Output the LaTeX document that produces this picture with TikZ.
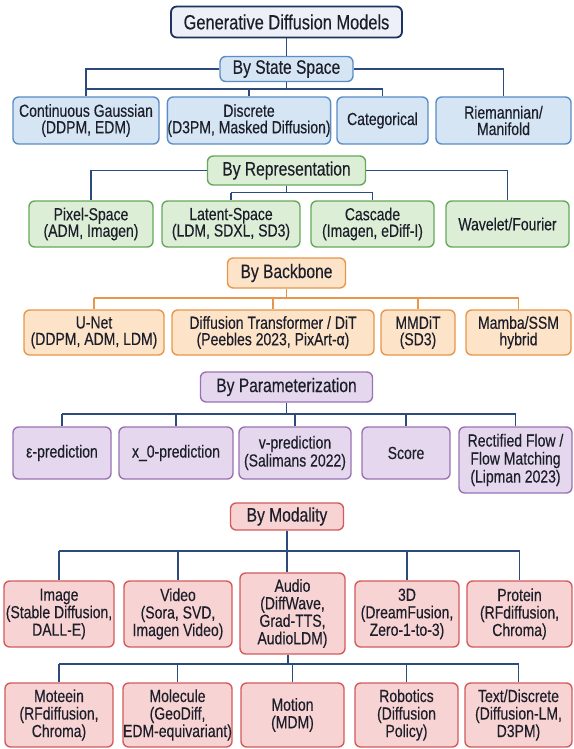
\documentclass[tikz,border=0pt]{standalone}
\usepackage{fontspec}
\setmainfont[FakeStretch=0.8, FakeBold=0.3]{Liberation Sans}
\usetikzlibrary{positioning, calc}

\definecolor{rootfill}{HTML}{EDF0F6}
\definecolor{rootline}{HTML}{1D335E}
\definecolor{bluefill}{HTML}{D5E5F4}
\definecolor{blueline}{HTML}{5A8DC5}
\definecolor{greenfill}{HTML}{DCEFD6}
\definecolor{greenline}{HTML}{67A85C}
\definecolor{orangefill}{HTML}{FDE3C8}
\definecolor{orangeline}{HTML}{E8964A}
\definecolor{purplefill}{HTML}{E5D8EE}
\definecolor{purpleline}{HTML}{9A72B4}
\definecolor{redfill}{HTML}{F8D3D3}
\definecolor{redline}{HTML}{D35B5B}
\definecolor{wirecol}{HTML}{2C4A7C}
\definecolor{ink}{HTML}{1C1E2A}

\begin{document}
\begin{tikzpicture}[x=1pt, y=-1pt,
	box/.style={draw, rounded corners=0.2cm, line width=1.4pt, align=center, inner sep=0pt, text=ink, font=\fontsize{17.5}{16.5}\selectfont},
	wh/.style 2 args={minimum width=#1pt, minimum height=#2pt},
	head/.style={box, font=\fontsize{19.5}{19}\selectfont},
	bluebox/.style={draw=blueline, fill=bluefill},
	greenbox/.style={draw=greenline, fill=greenfill},
	orangebox/.style={draw=orangeline, fill=orangefill},
	purplebox/.style={draw=purpleline, fill=purplefill, font=\fontsize{17.5}{18}\selectfont},
	redbox/.style={draw=redline, fill=redfill, font=\fontsize{17.5}{17.5}\selectfont},
	wire/.style={draw=wirecol, line width=1.3pt}]
	\useasboundingbox[fill=white] (0, 0) rectangle (573, 749);

	\node (0) at (286.5, 22) [box, wh={231}{31}, draw=rootline, fill=rootfill, line width=1.8pt, font=\fontsize{20.5}{20}\selectfont] {Generative Diffusion Models};

	% state space
	\node (1) at (286.5, 69) [head, bluebox, wh={133}{25}] {By State Space};
	\node (11) at (86, 120.5) [box, bluebox, wh={146}{47}] {Continuous Gaussian\\(DDPM, EDM)};
	\node (12) at (249, 120.5) [box, bluebox, wh={158}{47}] {Discrete\\(D3PM, Masked Diffusion)};
	\node (13) at (382.5, 120.5) [box, bluebox, wh={91}{47}] {Categorical};
	\node (14) at (503.5, 120.5) [box, bluebox, wh={135}{47}] {Riemannian/\\Manifold};

	% representation
	\node (2) at (286.5, 170.5) [head, greenbox, wh={158}{29}] {By Representation};
	\node (21) at (91, 224) [box, greenbox, wh={124}{46}] {Pixel-Space\\(ADM, Imagen)};
	\node (22) at (231, 224) [box, greenbox, wh={138}{46}] {Latent-Space\\(LDM, SDXL, SD3)};
	\node (23) at (372.5, 224) [box, greenbox, wh={123}{46}] {Cascade\\(Imagen, eDiff-I)};
	\node (24) at (507.5, 224) [box, greenbox, wh={123}{46}] {Wavelet/Fourier};

	% backbone
	\node (3) at (286.5, 273) [head, orangebox, wh={118}{30}] {By Backbone};
	\node (31) at (94, 332.5) [box, orangebox, wh={140}{45}] {U-Net\\(DDPM, ADM, LDM)};
	\node (32) at (273, 332.5) [box, orangebox, wh={202}{45}] {Diffusion Transformer / DiT\\(Peebles 2023, PixArt-α)};
	\node (33) at (418, 332.5) [box, orangebox, wh={74}{45}] {MMDiT\\(SD3)};
	\node (34) at (518.5, 332.5) [box, orangebox, wh={105}{45}] {Mamba/SSM\\hybrid};

	% parameterization
	\node (4) at (286.5, 387) [head, purplebox, wh={172}{30}, font=\fontsize{19.5}{19}\selectfont] {By Parameterization};
	\node (41) at (62, 453) [box, purplebox, wh={98}{52}] {ε-prediction};
	\node (42) at (176, 453) [box, purplebox, wh={114}{52}] {x\_0-prediction};
	\node (43) at (295, 453) [box, purplebox, wh={112}{52}] {v-prediction\\(Salimans 2022)};
	\node (44) at (406, 453) [box, purplebox, wh={88}{52}] {Score};
	\node (45) at (515.5, 460) [box, purplebox, wh={113}{66}] {Rectified Flow /\\Flow Matching\\(Lipman 2023)};

	% modality
	\node (5) at (287, 516.5) [head, redbox, wh={113}{27}, font=\fontsize{19.5}{19}\selectfont] {By Modality};
	\node (51) at (59, 614) [box, redbox, wh={110}{66}] {Image\\(Stable Diffusion,\\DALL-E)};
	\node (52) at (178, 614) [box, redbox, wh={108}{66}] {Video\\(Sora, SVD,\\Imagen Video)};
	\node (53) at (292.5, 613.5) [box, redbox, wh={105}{81}] {Audio\\(DiffWave,\\Grad-TTS,\\AudioLDM)};
	\node (54) at (407, 614) [box, redbox, wh={104}{66}] {3D\\(DreamFusion,\\Zero-1-to-3)};
	\node (55) at (519.5, 614) [box, redbox, wh={105}{66}] {Protein\\(RFdiffusion,\\Chroma)};
	\node (61) at (59, 715) [box, redbox, wh={108}{64}] {Moteein\\(RFdiffusion,\\Chroma)};
	\node (62) at (177.5, 715) [box, redbox, wh={109}{64}] {Molecule\\(GeoDiff,\\EDM-equivariant)};
	\node (63) at (292.5, 715) [box, redbox, wh={103}{64}] {Motion\\(MDM)};
	\node (64) at (406.5, 715) [box, redbox, wh={103}{64}] {Robotics\\(Diffusion\\Policy)};
	\node (65) at (518.5, 715) [box, redbox, wh={107}{64}] {Text/Discrete\\(Diffusion-LM,\\D3PM)};

	\coordinate (b1) at (286.5, 89);
	\coordinate (b2) at (286.5, 192.5);
	\coordinate (b3) at (286.5, 298);
	\coordinate (b4) at (286.5, 414);
	\coordinate (b5) at (287, 551);
	\coordinate (b6) at (288, 664);

	\draw[wire] (0) to (1);
	\draw[wire] (1.west) -| (11.north);
	\draw[wire] (1.east) -| (14.north);
	\draw[wire] (1.south) to (b1);
	\draw[wire] (11.north |- b1) to (13.north |- b1);
	\draw[wire] (12.north |- b1) to (12.north);
	\draw[wire] (13.north |- b1) to (13.north);

	\draw[wire] (2.west) -| (21.north);
	\draw[wire] (2.east) -| (24.north);
	\draw[wire] (2.south) to (b2);
	\draw[wire] (22.north |- b2) to (23.north |- b2);
	\draw[wire] (22.north |- b2) to (22.north);
	\draw[wire] (23.north |- b2) to (23.north);

	\draw[wire, draw=orangeline] (3.south) to (b3);
	\draw[wire, draw=orangeline] (31.north |- b3) to (34.north |- b3);
	\draw[wire, draw=orangeline] (31.north |- b3) to (31.north);
	\draw[wire, draw=orangeline] (32.north |- b3) to (32.north);
	\draw[wire, draw=orangeline] (33.north |- b3) to (33.north);
	\draw[wire, draw=orangeline] (34.north |- b3) to (34.north);

	\draw[wire] (4.south) to (b4);
	\draw[wire] (41.north |- b4) to (45.north |- b4);
	\draw[wire] (41.north |- b4) to (41.north);
	\draw[wire] (42.north |- b4) to (42.north);
	\draw[wire] (43.north |- b4) to (43.north);
	\draw[wire] (44.north |- b4) to (44.north);
	\draw[wire] (45.north |- b4) to (45.north);

	\draw[wire] (5.south) to (5.south |- 53.north);
	\draw[wire] (51.north |- b5) to (55.north |- b5);
	\draw[wire] (51.north |- b5) to (51.north);
	\draw[wire] (52.north |- b5) to (52.north);
	\draw[wire] (54.north |- b5) to (54.north);
	\draw[wire] (55.north |- b5) to (55.north);

	\draw[wire] (b6 |- 53.south) to (b6);
	\draw[wire] (61.north |- b6) to (65.north |- b6);
	\draw[wire] (61.north |- b6) to (61.north);
	\draw[wire] (62.north |- b6) to (62.north);
	\draw[wire] (63.north |- b6) to (63.north);
	\draw[wire] (64.north |- b6) to (64.north);
	\draw[wire] (65.north |- b6) to (65.north);
\end{tikzpicture}
\end{document}
